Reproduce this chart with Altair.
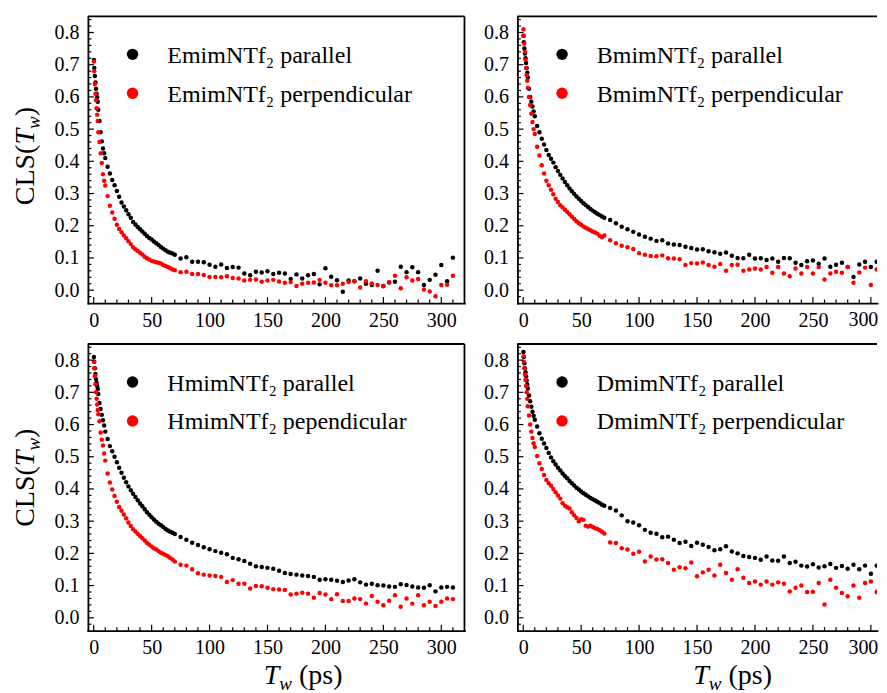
import altair as alt
import pandas as pd

FONT = "Liberation Serif"

# waiting time Tw (ps)
tw = [
    0.2, 0.5, 1, 1.5, 2, 2.5, 3, 3.5, 4, 5, 6, 7, 8, 9, 10,
    12, 14, 16, 18, 20, 22, 24, 26, 28, 30, 32, 34, 36, 38, 40,
    42, 44, 46, 48, 50, 52, 54, 56, 58, 60, 62, 64, 66, 68, 70,
    75, 80, 85, 90, 95, 100, 105, 110, 115, 120, 125, 130, 135, 140, 145,
    150, 155, 160, 165, 170, 175, 180, 185, 190, 195, 200, 205, 210, 215, 220,
    225, 230, 235, 240, 245, 250, 255, 260, 265, 270, 275, 280, 285, 290, 295,
    300, 305, 310,
]

emim_par = [
    0.715, 0.690, 0.665, 0.645, 0.625, 0.610, 0.598, 0.585, 0.560, 0.525, 0.490, 0.462, 0.440, 0.425, 0.410,
    0.383, 0.362, 0.342, 0.326, 0.308, 0.290, 0.272, 0.260, 0.248, 0.236, 0.225, 0.212, 0.204, 0.196, 0.189,
    0.182, 0.175, 0.168, 0.162, 0.157, 0.151, 0.146, 0.140, 0.134, 0.129, 0.124, 0.119, 0.116, 0.114, 0.110,
    0.098, 0.102, 0.088, 0.088, 0.087, 0.079, 0.073, 0.080, 0.069, 0.072, 0.070, 0.052, 0.046, 0.057, 0.055,
    0.059, 0.050, 0.054, 0.052, 0.035, 0.049, 0.036, 0.046, 0.050, 0.018, 0.068, 0.042, 0.031, -0.005, 0.030,
    0.028, 0.036, 0.020, 0.016, 0.060, 0.013, 0.024, 0.026, 0.073, 0.056, 0.071, 0.056, 0.016, 0.032, 0.048,
    0.078, 0.028, 0.101,
]
emim_perp = [
    0.710, 0.680, 0.640, 0.610, 0.590, 0.565, 0.545, 0.525, 0.490, 0.460, 0.425, 0.395, 0.360, 0.340, 0.325,
    0.292, 0.262, 0.241, 0.222, 0.203, 0.190, 0.180, 0.170, 0.161, 0.152, 0.143, 0.133, 0.127, 0.122, 0.116,
    0.111, 0.104, 0.099, 0.095, 0.091, 0.089, 0.087, 0.085, 0.083, 0.078, 0.075, 0.072, 0.068, 0.064, 0.062,
    0.056, 0.057, 0.050, 0.050, 0.047, 0.041, 0.041, 0.040, 0.043, 0.038, 0.036, 0.030, 0.032, 0.033, 0.026,
    0.030, 0.032, 0.027, 0.023, 0.025, 0.013, 0.020, 0.023, 0.024, 0.032, 0.023, 0.015, 0.015, 0.020, 0.025,
    0.028, 0.008, 0.028, 0.021, 0.016, 0.012, 0.025, 0.045, 0.006, 0.040, 0.030, 0.035, 0.002, -0.004, -0.019,
    0.016, 0.017, 0.045,
]
bmim_par = [
    0.790, 0.770, 0.750, 0.735, 0.720, 0.705, 0.690, 0.675, 0.660, 0.625, 0.600, 0.585, 0.570, 0.555, 0.540,
    0.510, 0.490, 0.470, 0.452, 0.435, 0.420, 0.408, 0.396, 0.382, 0.370, 0.358, 0.347, 0.336, 0.326, 0.316,
    0.307, 0.299, 0.291, 0.284, 0.277, 0.270, 0.264, 0.258, 0.252, 0.247, 0.242, 0.237, 0.233, 0.229, 0.225,
    0.218, 0.208, 0.197, 0.189, 0.181, 0.173, 0.166, 0.160, 0.153, 0.155, 0.145, 0.142, 0.140, 0.135, 0.131,
    0.126, 0.127, 0.121, 0.118, 0.113, 0.117, 0.107, 0.100, 0.099, 0.110, 0.098, 0.099, 0.094, 0.098, 0.088,
    0.100, 0.099, 0.085, 0.078, 0.090, 0.092, 0.082, 0.098, 0.073, 0.079, 0.085, 0.072, 0.041, 0.080, 0.088,
    0.072, 0.088, 0.066,
]
bmim_perp = [
    0.810, 0.790, 0.765, 0.740, 0.715, 0.690, 0.668, 0.650, 0.628, 0.600, 0.575, 0.548, 0.522, 0.500, 0.485,
    0.445, 0.418, 0.388, 0.362, 0.340, 0.326, 0.312, 0.298, 0.284, 0.274, 0.264, 0.257, 0.250, 0.243, 0.236,
    0.228, 0.221, 0.214, 0.208, 0.203, 0.198, 0.194, 0.190, 0.186, 0.182, 0.179, 0.175, 0.168, 0.164, 0.170,
    0.155, 0.146, 0.138, 0.133, 0.128, 0.115, 0.110, 0.106, 0.105, 0.108, 0.099, 0.098, 0.096, 0.078, 0.084,
    0.083, 0.086, 0.078, 0.073, 0.081, 0.060, 0.078, 0.079, 0.060, 0.064, 0.067, 0.064, 0.072, 0.054, 0.072,
    0.052, 0.043, 0.067, 0.052, 0.072, 0.052, 0.072, 0.033, 0.052, 0.057, 0.054, 0.072, 0.023, 0.055, 0.070,
    0.016, 0.064, 0.050,
]
hmim_par = [
    0.810, 0.795, 0.775, 0.757, 0.741, 0.730, 0.720, 0.710, 0.695, 0.667, 0.648, 0.630, 0.613, 0.597, 0.578,
    0.555, 0.533, 0.517, 0.500, 0.483, 0.466, 0.450, 0.435, 0.421, 0.408, 0.396, 0.385, 0.375, 0.365, 0.355,
    0.346, 0.337, 0.328, 0.320, 0.312, 0.305, 0.298, 0.292, 0.287, 0.282, 0.276, 0.271, 0.267, 0.264, 0.260,
    0.251, 0.242, 0.233, 0.226, 0.219, 0.213, 0.207, 0.202, 0.197, 0.186, 0.182, 0.176, 0.168, 0.160, 0.158,
    0.155, 0.152, 0.146, 0.139, 0.136, 0.134, 0.131, 0.130, 0.127, 0.118, 0.120, 0.118, 0.115, 0.111, 0.116,
    0.120, 0.110, 0.103, 0.106, 0.101, 0.100, 0.097, 0.096, 0.104, 0.102, 0.097, 0.094, 0.093, 0.101, 0.082,
    0.094, 0.096, 0.094,
]
hmim_perp = [
    0.795, 0.775, 0.750, 0.725, 0.700, 0.680, 0.662, 0.645, 0.632, 0.610, 0.575, 0.553, 0.535, 0.510, 0.488,
    0.448, 0.420, 0.398, 0.378, 0.360, 0.344, 0.332, 0.321, 0.309, 0.296, 0.285, 0.275, 0.268, 0.261, 0.254,
    0.247, 0.240, 0.232, 0.227, 0.221, 0.216, 0.212, 0.207, 0.202, 0.199, 0.195, 0.191, 0.186, 0.181, 0.175,
    0.165, 0.162, 0.151, 0.138, 0.134, 0.131, 0.130, 0.127, 0.111, 0.117, 0.106, 0.106, 0.091, 0.099, 0.098,
    0.093, 0.089, 0.088, 0.086, 0.072, 0.075, 0.078, 0.075, 0.062, 0.077, 0.072, 0.058, 0.073, 0.052, 0.052,
    0.060, 0.058, 0.044, 0.068, 0.050, 0.039, 0.053, 0.070, 0.034, 0.060, 0.044, 0.070, 0.039, 0.050, 0.037,
    0.050, 0.060, 0.058,
]
dmim_par = [
    0.825, 0.810, 0.790, 0.775, 0.762, 0.750, 0.737, 0.724, 0.712, 0.690, 0.672, 0.655, 0.640, 0.627, 0.615,
    0.594, 0.573, 0.556, 0.541, 0.527, 0.512, 0.498, 0.486, 0.476, 0.466, 0.457, 0.448, 0.440, 0.433, 0.425,
    0.418, 0.411, 0.404, 0.398, 0.392, 0.387, 0.382, 0.377, 0.372, 0.368, 0.364, 0.360, 0.356, 0.351, 0.348,
    0.341, 0.333, 0.318, 0.300, 0.296, 0.287, 0.273, 0.264, 0.261, 0.250, 0.252, 0.242, 0.232, 0.236, 0.223,
    0.233, 0.227, 0.220, 0.210, 0.213, 0.222, 0.206, 0.200, 0.192, 0.189, 0.186, 0.180, 0.190, 0.178, 0.177,
    0.190, 0.170, 0.174, 0.162, 0.159, 0.166, 0.156, 0.160, 0.167, 0.155, 0.161, 0.152, 0.165, 0.151, 0.162,
    0.137, 0.162, 0.158,
]
dmim_perp = [
    0.812, 0.795, 0.775, 0.755, 0.738, 0.720, 0.700, 0.680, 0.657, 0.628, 0.600, 0.578, 0.558, 0.542, 0.530,
    0.502, 0.480, 0.462, 0.443, 0.428, 0.418, 0.410, 0.400, 0.390, 0.380, 0.370, 0.356, 0.348, 0.343, 0.339,
    0.328, 0.318, 0.310, 0.300, 0.306, 0.304, 0.286, 0.283, 0.286, 0.282, 0.278, 0.276, 0.272, 0.267, 0.262,
    0.234, 0.232, 0.216, 0.212, 0.199, 0.205, 0.175, 0.190, 0.181, 0.182, 0.170, 0.149, 0.157, 0.154, 0.172,
    0.129, 0.141, 0.149, 0.131, 0.165, 0.139, 0.118, 0.151, 0.124, 0.108, 0.113, 0.103, 0.113, 0.103, 0.110,
    0.106, 0.082, 0.093, 0.100, 0.080, 0.081, 0.108, 0.041, 0.118, 0.093, 0.077, 0.067, 0.100, 0.062, 0.108,
    0.113, 0.080, 0.058,
]

legend_labels = [
    ("EmimNTf\u2082 parallel", "EmimNTf\u2082 perpendicular"),
    ("BmimNTf\u2082 parallel", "BmimNTf\u2082 perpendicular"),
    ("HmimNTf\u2082 parallel", "HmimNTf\u2082 pependicular"),
    ("DmimNTf\u2082 parallel", "DmimNTf\u2082 perpendicular"),
]

x_major = [0, 50, 100, 150, 200, 250, 300]
x_minor = [10, 20, 30, 40, 60, 70, 80, 90, 110, 120, 130, 140, 160, 170, 180, 190,
           210, 220, 230, 240, 260, 270, 280, 290, 310]
y_major = [0.0, 0.1, 0.2, 0.3, 0.4, 0.5, 0.6, 0.7, 0.8]
y_minor = [-0.02, 0.02, 0.04, 0.06, 0.08, 0.12, 0.14, 0.16, 0.18, 0.22, 0.24, 0.26, 0.28,
           0.32, 0.34, 0.36, 0.38, 0.42, 0.44, 0.46, 0.48, 0.52, 0.54, 0.56, 0.58,
           0.62, 0.64, 0.66, 0.68, 0.72, 0.74, 0.76, 0.78, 0.82, 0.84]

H = 287
W_LEFT, XMAX_LEFT = 377, 320.0      # full frame
W_RIGHT, XMAX_RIGHT = 360, 305.3    # cut by the picture's right edge
XMIN = -5
YDOM = [-0.04, 0.85]
ONE = pd.DataFrame({"k": [0]})
YS = alt.Scale(domain=YDOM, nice=False, zero=False)


def axis_x(values):
    return alt.Axis(values=values, title=None, ticks=False, tickSize=0, grid=False,
                    labelFont=FONT, labelFontSize=20, labelColor="black", labelPadding=7,
                    labelFlush=False, labelOverlap=False,
                    domainColor="black", domainWidth=1.8, domainCap="square")


def axis_y():
    return alt.Axis(values=y_major, format=".1f", title=None, ticks=False, tickSize=0, grid=False,
                    labelFont=FONT, labelFontSize=20, labelColor="black", labelPadding=9,
                    labelFlush=False, labelOverlap=False,
                    domainColor="black", domainWidth=1.8, domainCap="square")


def text_piece(txt, x, y, size, style="normal", angle=0):
    return alt.Chart(ONE).mark_text(
        text=txt, font=FONT, fontSize=size, fontStyle=style, color="black",
        align="left", baseline="alphabetic", angle=angle,
    ).encode(x=alt.value(x), y=alt.value(y))


def panel(par, perp, labels, left_col, bottom_row, ytitle_bottom):
    W = W_LEFT if left_col else W_RIGHT
    xmax = XMAX_LEFT if left_col else XMAX_RIGHT
    # on the right column the last label sits at the picture's edge: it is drawn apart
    lab_vals = x_major if left_col else x_major[:-1]
    xax = axis_x(lab_vals)
    xs = alt.Scale(domain=[XMIN, xmax], nice=False, zero=False)
    n = len(tw)
    df = pd.DataFrame({
        "tw": tw + tw,
        "cls": par + perp,
        "series": ["par"] * n + ["perp"] * n,
        "ord": [0] * n + [1] * n,
    })
    pts = alt.Chart(df).mark_circle(size=20, opacity=1, clip=True).encode(
        x=alt.X("tw:Q", scale=xs, axis=xax),
        y=alt.Y("cls:Q", scale=YS, axis=axis_y()),
        color=alt.Color("series:N", scale=alt.Scale(domain=["par", "perp"], range=["#000000", "#ff0000"]),
                        legend=None),
        order=alt.Order("ord:Q"),
    )

    def xt(vals, ln):
        vals = [v for v in vals if v < xmax]
        return alt.Chart(pd.DataFrame({"tw": vals})).mark_rule(color="black", strokeWidth=1.2).encode(
            x=alt.X("tw:Q", scale=xs, axis=xax), y=alt.value(H), y2=alt.value(H - ln))

    def yt(vals, ln):
        return alt.Chart(pd.DataFrame({"cls": vals})).mark_rule(color="black", strokeWidth=1.2).encode(
            y=alt.Y("cls:Q", scale=YS, axis=axis_y()), x=alt.value(0), x2=alt.value(ln))

    top = alt.Chart(ONE).mark_rule(color="black", strokeWidth=1.8).encode(
        x=alt.value(0), x2=alt.value(W), y=alt.value(0))

    leg_c1 = alt.Chart(ONE).mark_circle(size=130, opacity=1, color="#000000").encode(
        x=alt.value(44.7), y=alt.value(38))
    leg_c2 = alt.Chart(ONE).mark_circle(size=130, opacity=1, color="#ff0000").encode(
        x=alt.value(44.7), y=alt.value(77))
    leg_t1 = text_piece(labels[0], 79.5, 47, 24)
    leg_t2 = text_piece(labels[1], 79.5, 85.5, 24)

    layers = [pts, xt(x_major, 6), xt(x_minor, 3.5), yt(y_major, 6), yt(y_minor, 3.5),
              top, leg_c1, leg_c2, leg_t1, leg_t2]

    if left_col:
        right = alt.Chart(ONE).mark_rule(color="black", strokeWidth=1.8).encode(
            x=alt.value(W), y=alt.value(0), y2=alt.value(H))
        bx = -54
        yb = ytitle_bottom
        layers += [
            right,
            text_piece("CLS(", bx, yb, 28, angle=270),
            text_piece("T", bx, yb - 60.7, 28, "italic", angle=270),
            text_piece("w", bx + 6, yb - 76.3, 19, "italic", angle=270),
            text_piece(")", bx, yb - 89.0, 28, angle=270),
        ]
    else:
        last = x_major[-1:]
        layers.append(
            alt.Chart(pd.DataFrame({"tw": last})).mark_text(
                font=FONT, fontSize=20, color="black", align="center", baseline="top", dx=-7.5,
            ).encode(
                x=alt.X("tw:Q", scale=xs, axis=xax),
                y=alt.value(H + 7),
                text=alt.Text("tw:Q", format="d"),
            )
        )
    if bottom_row:
        by = H + 53.5
        layers += [
            text_piece("T", 176, by, 28, "italic"),
            text_piece("w", 191.6, by + 6, 19, "italic"),
            text_piece("(ps)", 211.3, by, 28),
        ]
    return alt.layer(*layers).properties(width=W, height=H)


p1 = panel(emim_par, emim_perp, legend_labels[0], True, False, 189)
p2 = panel(bmim_par, bmim_perp, legend_labels[1], False, False, 189)
p3 = panel(hmim_par, hmim_perp, legend_labels[2], True, True, 183)
p4 = panel(dmim_par, dmim_perp, legend_labels[3], False, True, 183)

row1 = alt.hconcat(p1, p2, spacing=18)
row2 = alt.hconcat(p3, p4, spacing=18)
chart = alt.vconcat(row1, row2, spacing=13).configure_view(stroke=None).properties(
    padding={"left": 3, "top": 7, "right": 0, "bottom": 0},
    background="white",
)

chart.save("out.html", embed_options={"renderer": "svg", "actions": False})
